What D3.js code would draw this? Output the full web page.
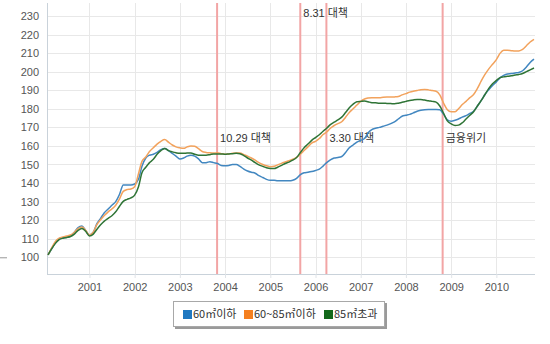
<!DOCTYPE html>
<html>
<head>
<meta charset="utf-8">
<script src="https://cdn.jsdelivr.net/npm/d3@7"></script>
<style>
  html, body { margin: 0; padding: 0; background: #fff; }
  svg { display: block; font-family: "Liberation Sans", Arial, "Noto Sans CJK KR", sans-serif; }
</style>
</head>
<body>
<svg id="chart" width="550" height="344"></svg>
<script>
// Monthly housing price index (2000 = 100 basis), Feb 2000 – Nov 2010
const startMonth = new Date(2000, 1, 1);
const endMonth = new Date(2010, 10, 1);
const months = d3.timeMonth.range(startMonth, d3.timeMonth.offset(endMonth, 1));

const seriesNames = ["60㎡이하", "60~85㎡이하", "85㎡초과"];
const lineColors = ["#4287c0", "#f2a25c", "#2f7436"];
const legendColors = ["#1f78c1", "#f58020", "#13691b"];

const small = [
  101.3, 104.5, 108, 110, 110.5, 110.8, 111.5, 113.5, 116, 116.8, 114.5,
  112, 113.5, 118, 121, 124, 126, 128, 130, 134, 139, 139, 139,
  139.5, 142, 149, 153.5, 155, 155.5, 156.5, 158, 158.6, 157.5, 156, 154.5,
  153, 153.5, 154.5, 155, 154.5, 153, 151, 151, 151.5, 151, 150.5, 149.5,
  149.3, 149.5, 150, 150, 149, 147.5, 146.5, 145.8, 145.3, 144, 143, 142,
  141.5, 141.5, 141.3, 141.3, 141.2, 141.2, 141.5, 142.5, 144.5, 145.5, 145.8, 146.2,
  146.8, 147.5, 149, 151, 152.5, 153.5, 153.8, 154.3, 156.5, 159, 160.5, 162,
  163, 164, 167, 168.8, 169.5, 170, 170.6, 171.2, 172, 173, 174.5, 176,
  176.5, 177, 177.8, 178.7, 179.2, 179.5, 179.6, 179.6, 179.6, 179.5, 177, 174,
  173.3, 173.8, 174.5, 175.5, 176.3, 177.5, 178.7, 181.5, 184.5, 187.7, 190.3, 192.5,
  194.5, 196.8, 198, 198.8, 199, 199.3, 199.6, 200.5, 202.5, 205, 206.8
];
const medium = [
  101.3, 105, 108.5, 110.3, 111, 111.5, 112, 113.5, 115.5, 116.3, 114.5,
  112, 113.5, 117.5, 120.2, 122.5, 124.5, 126, 128, 131.5, 135.5, 136.5, 136.8,
  138, 145, 151.7, 154, 157, 159, 161, 162.5, 163.4, 162, 160.5, 159.5,
  159, 158.7, 159.5, 160, 159.8, 158.5, 157, 156.5, 156.3, 156.2, 156.3, 155.8,
  155.5, 155.7, 156, 156.2, 156.2, 155.3, 154.5, 153.5, 152.3, 151, 150, 149.3,
  148.8, 149, 149.8, 150.6, 151.3, 152, 152.8, 153.8, 155.5, 157.5, 159.5, 161.5,
  162.5, 164, 166, 167.5, 169.5, 171, 172, 173, 175.5, 178, 180, 182,
  184, 185.3, 185.8, 186, 186, 186, 186.2, 186.3, 186.3, 186.4, 186.6, 187.5,
  188.2, 189, 189.5, 189.9, 190.3, 190.4, 190.2, 189.8, 189.5, 187.5, 183, 179.5,
  178.4, 178.4, 180, 182.3, 184, 186, 187.7, 191, 195, 198.5, 201.5, 204,
  206.5, 210, 211.5, 211.5, 211.3, 211.1, 211.2, 212, 214, 216, 217.4
];
const large = [
  101.3, 104.5, 107.5, 109.5, 110.3, 110.7, 111.2, 112.5, 114.5, 115.5, 114,
  111.5, 112.5, 115, 117.5, 119.5, 121, 122.4, 124.5, 127.5, 130.1, 131.2, 132,
  133.5, 138, 145.5, 148.5, 151, 152.8, 155.5, 157.5, 158.6, 157.5, 156.8, 156.3,
  156, 156, 156.2, 156.2, 155.5, 155, 155, 155, 155.3, 155.7, 155.7, 155.7,
  155.5, 155.7, 155.8, 156, 155.8, 154.8, 153.5, 152.3, 151, 149.8, 149, 148.2,
  147.8, 147.8, 148.5, 149.5, 150.5, 151.3, 152.3, 153.8, 156.5, 159, 161, 163,
  164.5, 166, 167.8, 169.5, 171.5, 172.8, 174, 175.5, 178, 180.5, 182.5, 183.8,
  184, 184.2, 183.8, 183.3, 183.2, 183, 183, 182.9, 182.8, 182.7, 183, 183.5,
  184, 184.5, 184.8, 185, 185, 184.7, 184.3, 184, 183.6, 181.5, 177.5, 173.5,
  171.9, 171, 171.2, 172.5, 174.5, 176.5, 178.4, 181.5, 184.5, 187.7, 191, 193.5,
  195.3, 196.8, 197.2, 197.5, 197.8, 198.2, 198.5, 199, 200, 201, 202
];
const seriesValues = [small, medium, large];

// Policy / event markers
const eventDates = [new Date(2003, 9, 29), new Date(2005, 7, 31), new Date(2006, 2, 30), new Date(2008, 9, 24)];
const eventLabels = ["10.29 대책", "8.31 대책", "3.30 대책", "금융위기"];
const eventLabelValues = [164.2, 231.5, 164.2, 164.2];

const yTicks = d3.range(100, 231, 10);
const xTickYears = d3.range(2001, 2011);

const svg = d3.select("#chart");
const plot = { left: 47, right: 535, top: 3, bottom: 274 };

const x = d3.scaleTime().domain([startMonth, endMonth]).range([48, 534]);
const y = d3.scaleLinear().domain([91, 237]).range([plot.bottom, plot.top]);

const xTicks = xTickYears.map(yr => new Date(yr, 0, 1));

// Grid
const grid = svg.append("g");
grid.selectAll("line.h").data(yTicks).join("line")
  .attr("x1", plot.left).attr("x2", plot.right)
  .attr("y1", d => Math.round(y(d)) + 0.5).attr("y2", d => Math.round(y(d)) + 0.5)
  .attr("stroke", "#e8e8e8").attr("stroke-width", 1);
grid.selectAll("line.v").data(xTicks).join("line")
  .attr("x1", d => Math.round(x(d)) + 0.5).attr("x2", d => Math.round(x(d)) + 0.5)
  .attr("y1", plot.top).attr("y2", plot.bottom)
  .attr("stroke", "#e8e8e8").attr("stroke-width", 1);

// Axes
const yAxis = svg.append("g")
  .attr("transform", `translate(${plot.left},0)`)
  .call(d3.axisLeft(y).tickValues(yTicks).tickSize(0).tickPadding(8));
yAxis.select(".domain").attr("stroke", "#c9d2da").attr("d", `M0.5,${plot.top}V${plot.bottom}`);
yAxis.selectAll("text").attr("fill", "#555").attr("font-size", 11);

const xAxis = svg.append("g")
  .attr("transform", `translate(0,${plot.bottom})`)
  .call(d3.axisBottom(x).tickValues(xTicks).tickFormat(d3.timeFormat("%Y")).tickSize(4).tickPadding(5));
xAxis.select(".domain").attr("stroke", "#c9d2da").attr("d", `M${plot.left},0.5H${plot.right}`);
xAxis.selectAll(".tick line").attr("stroke", "#e0e4e8");
xAxis.selectAll("text").attr("fill", "#555").attr("font-size", 11);

// small stray tick at left edge
svg.append("line").attr("x1", 0).attr("x2", 7)
  .attr("y1", y(100) + 0.5).attr("y2", y(100) + 0.5)
  .attr("stroke", "#999").attr("stroke-width", 1);

// Event markers
const ev = svg.append("g");
ev.selectAll("line").data(eventDates).join("line")
  .attr("x1", d => x(d)).attr("x2", d => x(d))
  .attr("y1", plot.top).attr("y2", plot.bottom)
  .attr("stroke", "#f2a5a5").attr("stroke-width", 2);
ev.selectAll("text").data(eventLabels).join("text")
  .attr("x", (d, i) => x(eventDates[i]) + 3)
  .attr("y", (d, i) => y(eventLabelValues[i]))
  .attr("dy", "0.35em")
  .attr("font-size", 11)
  .attr("fill", "#333")
  .attr("font-family", "'Liberation Sans', 'Noto Sans CJK KR', sans-serif")
  .text(d => d);

// Series lines
const line = d3.line()
  .x((d, i) => x(months[i]))
  .y(d => y(d))
  .curve(d3.curveMonotoneX);

svg.append("g").selectAll("path").data(seriesValues).join("path")
  .attr("d", d => line(d))
  .attr("fill", "none")
  .attr("stroke", (d, i) => lineColors[i])
  .attr("stroke-width", 1.5)
  .attr("stroke-linejoin", "round");

// Legend
const legend = svg.append("g").attr("transform", "translate(173,301)");
legend.append("rect").attr("x", 2).attr("y", 2).attr("width", 212).attr("height", 26).attr("fill", "#9a9a9a");
legend.append("rect").attr("x", 0.5).attr("y", 0.5).attr("width", 211).attr("height", 25)
  .attr("fill", "#fff").attr("stroke", "#a8a8a8");
const itemX = [10, 71, 151];
const items = legend.selectAll("g.item").data(seriesNames).join("g")
  .attr("transform", (d, i) => `translate(${itemX[i]},0)`);
items.append("rect").attr("x", 0).attr("y", 9).attr("width", 9).attr("height", 9)
  .attr("fill", (d, i) => legendColors[i]);
items.append("text").attr("x", 10).attr("y", 13.5).attr("dy", "0.35em")
  .attr("font-size", 11).attr("fill", "#333")
  .attr("font-family", "'Noto Sans CJK KR', sans-serif")
  .text(d => d);
</script>
</body>
</html>
